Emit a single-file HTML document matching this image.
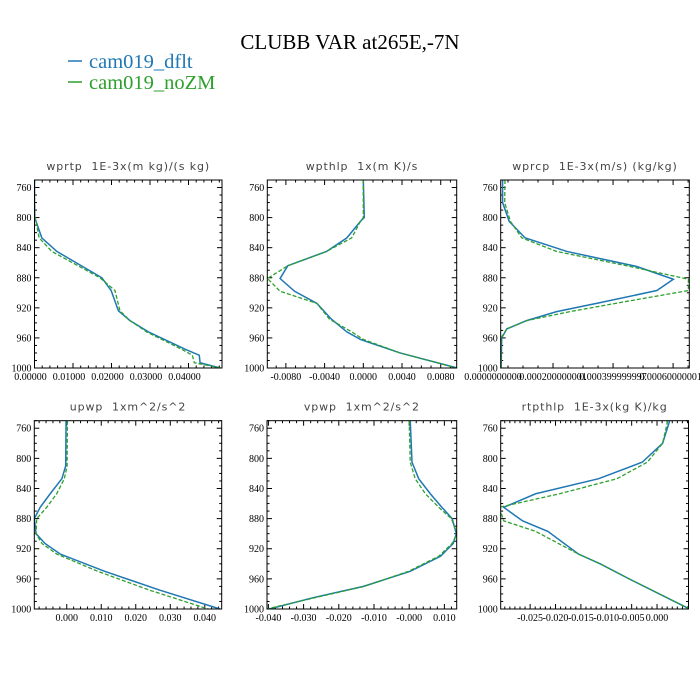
<!DOCTYPE html>
<html><head><meta charset="utf-8">
<style>
html,body{margin:0;padding:0;background:#fff;}
svg{display:block;}
.ptitle{white-space:pre;}
</style></head>
<body>
<svg id="chart" width="700" height="700" viewBox="0 0 700 700" xmlns="http://www.w3.org/2000/svg">
<rect x="0" y="0" width="700" height="700" fill="#fff"/>
<text x="350" y="49" text-anchor="middle" font-family="Liberation Serif, serif" font-size="21" fill="#000">CLUBB VAR at265E,-7N</text>
<g>
<g>
<line x1="68" y1="61" x2="82" y2="61" stroke="#1f77b4" stroke-width="1.5"/>
<text x="89" y="68" font-family="Liberation Serif, serif" font-size="20.5" fill="#1f77b4">cam019_dflt</text>
</g>
<g>
<line x1="68" y1="82" x2="82" y2="82" stroke="#2ca02c" stroke-width="1.5"/>
<text x="89" y="89" font-family="Liberation Serif, serif" font-size="20.5" fill="#2ca02c">cam019_noZM</text>
</g>
</g>
<g id="panels"></g>
</svg>
<script>
// shared y ticks
const yTicks = [760, 800, 840, 880, 920, 960, 1000];

// Panel 1: wprtp
const p1Levels = [750, 780, 800, 805, 827, 845, 880, 897, 924, 937, 952, 975, 983, 993, 1000];
const p1Dflt   = [0.0000, 0.0000, 0.0001, 0.0004, 0.0019, 0.0058, 0.0175, 0.0199, 0.0218, 0.0248, 0.0296, 0.0391, 0.0428, 0.0430, 0.0482];
const p1NoZM   = [0.0000, 0.0000, 0.0001, 0.0004, 0.0012, 0.0045, 0.0170, 0.0209, 0.0222, 0.0248, 0.0291, 0.0382, 0.0410, 0.0415, 0.0486];
const p1Ticks  = [0, 0.01, 0.02, 0.03, 0.04];
const p1TickLabels = ["0.00000", "0.01000", "0.02000", "0.03000", "0.04000"];

// Panel 2: wpthlp
const p2Levels = [750, 800, 805, 827, 845, 864, 881, 898, 914, 935, 952, 962, 980, 1000];
const p2Dflt   = [0.0000, 0.0001, -0.0003, -0.0017, -0.0038, -0.0078, -0.0086, -0.0071, -0.0048, -0.0033, -0.0017, -0.0003, 0.0038, 0.0097];
const p2NoZM   = [0.0000, 0.0000, -0.0003, -0.0012, -0.0038, -0.0078, -0.0099, -0.0086, -0.0048, -0.0035, -0.0012, 0.0000, 0.0038, 0.0097];
const p2Ticks  = [-0.008, -0.004, 0, 0.004, 0.008];
const p2TickLabels = ["-0.0080", "-0.0040", "0.0000", "0.0040", "0.0080"];

// Panel 3: wprcp
const p3Levels = [750, 780, 805, 827, 845, 865, 882, 897, 913, 925, 937, 948, 960, 1000];
const p3Dflt   = [0.000032, 0.000032, 0.000054, 0.000107, 0.000246, 0.000479, 0.000601, 0.000546, 0.000357, 0.000212, 0.000112, 0.000046, 0.000029, 0.000027];
const p3NoZM   = [0.000040, 0.000039, 0.000058, 0.000096, 0.000212, 0.000457, 0.000651, 0.000651, 0.000423, 0.000257, 0.000112, 0.000046, 0.000027, 0.000027];
const p3Ticks  = [0, 0.0002, 0.0004, 0.0006];
const p3TickLabels = ["0.0000000000", "0.000200000001", "0.000399999997", "0.000600000010"];

// Panel 4: upwp
const p4Levels = [750, 810, 827, 847, 865, 880, 900, 913, 927, 950, 975, 1000];
const p4Dflt   = [-0.0002, -0.0003, -0.0014, -0.0048, -0.0077, -0.0094, -0.0089, -0.0063, -0.0019, 0.0110, 0.0270, 0.0444];
const p4NoZM   = [0.0002, 0.0001, -0.0007, -0.0029, -0.0058, -0.0087, -0.0089, -0.0072, -0.0029, 0.0090, 0.0240, 0.0410];
const p4Ticks  = [0, 0.01, 0.02, 0.03, 0.04];
const p4TickLabels = ["0.000", "0.010", "0.020", "0.030", "0.040"];

// Panel 5: vpwp
const p5Levels = [750, 805, 827, 847, 865, 880, 900, 913, 930, 950, 970, 985, 1000];
const p5Dflt   = [0.0003, 0.0008, 0.0027, 0.0060, 0.0093, 0.0122, 0.0134, 0.0125, 0.0089, 0.0003, -0.0130, -0.0273, -0.0397];
const p5NoZM   = [0.0000, 0.0003, 0.0017, 0.0046, 0.0084, 0.0120, 0.0136, 0.0122, 0.0084, -0.0002, -0.0128, -0.0268, -0.0405];
const p5Ticks  = [-0.04, -0.03, -0.02, -0.01, 0, 0.01];
const p5TickLabels = ["-0.040", "-0.030", "-0.020", "-0.010", "-0.000", "0.010"];

// Panel 6: rtpthlp
const p6Levels = [750, 780, 805, 827, 847, 865, 883, 897, 927, 940, 960, 1000];
const p6Dflt   = [0.0025, 0.0011, -0.0029, -0.0115, -0.0239, -0.0302, -0.0265, -0.0215, -0.0155, -0.0112, -0.0055, 0.0064];
const p6NoZM   = [0.0021, 0.0011, -0.0019, -0.0079, -0.0192, -0.0311, -0.0302, -0.0239, -0.0155, -0.0112, -0.0055, 0.0064];
const p6Ticks  = [-0.025, -0.02, -0.015, -0.01, -0.005, 0];
const p6TickLabels = ["-0.025", "-0.020", "-0.015", "-0.010", "-0.005", "0.000"];

const NS = "http://www.w3.org/2000/svg";
const root = document.getElementById('panels');
function mk(tag, attrs, parent){
  const e = document.createElementNS(NS, tag);
  for (const k in attrs) e.setAttribute(k, attrs[k]);
  parent.appendChild(e);
  return e;
}

const panels = [
  {name:'wprtp', title:'wprtp  1E-3x(m kg)/(s kg)', box:[34.5,180,222,368], dom:[0,0.0487], minor:0.002, lv:p1Levels, a:p1Dflt, b:p1NoZM, t:p1Ticks, tl:p1TickLabels, lo:-4},
  {name:'wpthlp', title:'wpthlp  1x(m K)/s', box:[267.3,180,456.7,368], dom:[-0.00992,0.00965], minor:0.001, lv:p2Levels, a:p2Dflt, b:p2NoZM, t:p2Ticks, tl:p2TickLabels, lo:0},
  {name:'wprcp', title:'wprcp  1E-3x(m/s) (kg/kg)', box:[500.7,180,689.3,368], dom:[0.0000257,0.000654], minor:0.00005, lv:p3Levels, a:p3Dflt, b:p3NoZM, t:p3Ticks, tl:p3TickLabels, lo:0},
  {name:'upwp', title:'upwp  1xm^2/s^2', box:[34.3,420.7,221.7,609], dom:[-0.0094,0.0449], minor:0.002, lv:p4Levels, a:p4Dflt, b:p4NoZM, t:p4Ticks, tl:p4TickLabels, lo:0},
  {name:'vpwp', title:'vpwp  1xm^2/s^2', box:[267,420.7,456.7,609], dom:[-0.0404,0.0135], minor:0.002, lv:p5Levels, a:p5Dflt, b:p5NoZM, t:p5Ticks, tl:p5TickLabels, lo:0},
  {name:'rtpthlp', title:'rtpthlp  1E-3x(kg K)/kg', box:[500.7,420.7,688.5,609], dom:[-0.0308,0.0062], minor:0.001, lv:p6Levels, a:p6Dflt, b:p6NoZM, t:p6Ticks, tl:p6TickLabels, lo:0}
];

panels.forEach(function(P){
  const [x0,y0,x1,y1] = P.box;
  const g = mk('g', {}, root);
  
  
  const xs = v => x0 + (v - P.dom[0]) / (P.dom[1] - P.dom[0]) * (x1 - x0);
  const ys = p => y0 + (p - 750) / 250 * (y1 - y0);

  const title = mk('text', {x:(x0+x1)/2, y:y0-10, 'text-anchor':'middle', 'font-family':'DejaVu Sans, sans-serif', 'font-size':'11', 'letter-spacing':'0.9', fill:'#444', 'class':'ptitle'}, g);
  
  
  title.textContent = P.title;

  const clip = mk('clipPath', {id:'clip-'+P.name}, g);
  mk('rect', {x:x0, y:y0, width:x1-x0, height:y1-y0}, clip);

  const ticks = mk('g', {stroke:'#000', 'stroke-width':'1'}, g);
  
  
  for (let p = 750; p <= 1000; p += 10) {
    const y = ys(p);
    const major = yTicks.indexOf(p) >= 0;
    const L = major ? 5 : 2.5;
    mk('line', {x1:x0, y1:y, x2:x0+L, y2:y}, ticks);
    mk('line', {x1:x1, y1:y, x2:x1-L, y2:y}, ticks);
  }
  const start = Math.ceil(P.dom[0] / P.minor - 1e-6);
  const end = Math.floor(P.dom[1] / P.minor + 1e-6);
  for (let i = start; i <= end; i++) {
    const v = i * P.minor;
    const major = P.t.some(t => Math.abs(t - v) < P.minor * 0.01);
    const L = major ? 5 : 2.5;
    const x = xs(v);
    mk('line', {x1:x, y1:y0, x2:x, y2:y0+L}, ticks);
    mk('line', {x1:x, y1:y1, x2:x, y2:y1-L}, ticks);
  }

  const ylab = mk('g', {'font-family':'Liberation Serif, serif', 'font-size':'10', fill:'#000', 'text-anchor':'end'}, g);
  
  
  yTicks.forEach(function(p){
    const t = mk('text', {x:x0-3, y:ys(p)+3.5}, ylab);
    t.textContent = String(p);
  });
  const xlab = mk('g', {'font-family':'Liberation Serif, serif', 'font-size':'10', fill:'#000', 'text-anchor':'middle'}, g);
  
  
  P.t.forEach(function(v, i){
    const t = mk('text', {x:xs(v)+P.lo, y:y1+12}, xlab);
    t.textContent = P.tl[i];
  });

  function path(vals){ return vals.map((v,i)=>(i?'L':'M')+xs(v).toFixed(2)+','+ys(P.lv[i]).toFixed(2)).join(''); }
  const la = mk('path', {d:path(P.a), fill:'none', stroke:'#1f77b4', 'stroke-width':'1.5', 'clip-path':'url(#clip-'+P.name+')'}, g);
  
  
  const lb = mk('path', {d:path(P.b), fill:'none', stroke:'#2ca02c', 'stroke-width':'1.3', 'stroke-dasharray':'4,2', 'clip-path':'url(#clip-'+P.name+')'}, g);
  
  

  const frame = mk('rect', {x:x0, y:y0, width:x1-x0, height:y1-y0, fill:'none', stroke:'#000', 'stroke-width':'1'}, g);
  
  
});
</script>
</body></html>
